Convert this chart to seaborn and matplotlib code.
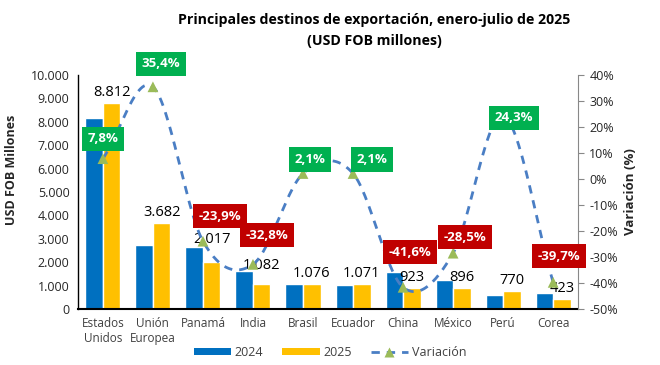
import numpy as np
import pandas as pd
import matplotlib
matplotlib.use("Agg")
import matplotlib.pyplot as plt
import matplotlib.ticker as mticker
from matplotlib.patches import Patch
from matplotlib.lines import Line2D
import seaborn as sns

# ---------------- data ----------------
paises = ["Estados\nUnidos", "Unión\nEuropea", "Panamá", "India", "Brasil",
          "Ecuador", "China", "México", "Perú", "Corea"]
valores_2024 = [8174, 2719, 2650, 1610, 1054, 1049, 1580, 1253, 619, 701]
valores_2025 = [8812, 3682, 2017, 1082, 1076, 1071, 923, 896, 770, 423]
variacion = [7.8, 35.4, -23.9, -32.8, 2.1, 2.1, -41.6, -28.5, 24.3, -39.7]
etiquetas_2025 = ["8.812", "3.682", "2.017", "1.082", "1.076", "1.071", "923", "896", "770", "423"]
etiquetas_var = ["7,8%", "35,4%", "-23,9%", "-32,8%", "2,1%", "2,1%", "-41,6%", "-28,5%", "24,3%", "-39,7%"]

# label placement (pixels) - styling only
var_offsets = [(0, 20), (8, 23), (17, 25), (14, 29), (7, 14), (19, 14),
               (7, 35), (12, 16), (11, -2), (6, 26)]
bar_label_extra = [0, 0, 12, 8, 0, 0, 0, 0, 0, 0]

sns.set_theme(style="white")
plt.rcParams["font.family"] = ["Open Sans", "DejaVu Sans"]

BLUE = "#0070C0"
YELLOW = "#FFC000"
LINE = "#4A7EC4"
TRI = "#9BBB59"
GREEN = "#00B050"
RED = "#C00000"
TXT = "#262626"

df = pd.DataFrame({
    "pais": paises * 2,
    "valor": valores_2024 + valores_2025,
    "anio": ["2024"] * len(paises) + ["2025"] * len(paises),
})

fig = plt.figure(figsize=(6.6, 3.65), dpi=100)
ax = fig.add_axes([0.118, 0.153, 0.758, 0.642])

sns.barplot(data=df, x="pais", y="valor", hue="anio", palette=[BLUE, YELLOW],
            width=0.7, gap=0, legend=False, ax=ax, saturation=1, errorbar=None)

ax.set_ylim(0, 10000)
ax.set_xlim(-0.5, len(paises) - 0.5)
ax.yaxis.set_major_locator(mticker.MultipleLocator(1000))
ax.yaxis.set_major_formatter(mticker.FuncFormatter(lambda v, p: f"{int(v):,}".replace(",", ".")))
ax.tick_params(axis="y", labelsize=9, colors=TXT, length=0, pad=6)
ax.tick_params(axis="x", labelsize=8.5, colors="#404040", length=0, pad=6)
ax.set_xlabel("")
ax.set_ylabel("USD FOB Millones", fontsize=9, fontweight="bold", color=TXT)
ax.yaxis.set_label_coords(-0.12, 0.594)
for s in ["top", "right"]:
    ax.spines[s].set_visible(False)
ax.spines["left"].set_color("black")
ax.spines["left"].set_linewidth(1.0)
ax.spines["bottom"].set_color("black")
ax.spines["bottom"].set_linewidth(1.5)

# value labels on 2025 bars
xs = np.arange(len(paises))
bar_w = 0.35
for i, (v, lab) in enumerate(zip(valores_2025, etiquetas_2025)):
    ax.annotate(lab, (xs[i] + bar_w / 2, v), xytext=(0, 3 + bar_label_extra[i]),
                textcoords="offset pixels", ha="center", va="bottom",
                fontsize=10.5, color="black")

# secondary axis: variation
ax2 = ax.twinx()
ax2.set_ylim(-50, 40)
ax2.set_xlim(ax.get_xlim())
ax2.yaxis.set_major_locator(mticker.MultipleLocator(10))
ax2.yaxis.set_major_formatter(mticker.FuncFormatter(lambda v, p: f"{int(round(v))}%"))
ax2.tick_params(axis="y", labelsize=9, colors=TXT, length=4, width=0.8, color="#888888", pad=4)
ax2.set_ylabel("Variación (%)", fontsize=9.5, fontweight="bold", color=TXT, labelpad=4)
for s in ["top", "left", "bottom"]:
    ax2.spines[s].set_visible(False)
ax2.spines["right"].set_color("#888888")
ax2.spines["right"].set_linewidth(0.8)

# smoothed line (Bezier rendering through the data points)
yv = np.array(variacion, dtype=float)
xv = xs.astype(float)
px = np.concatenate([[2 * xv[0] - xv[1]], xv, [2 * xv[-1] - xv[-2]]])
py = np.concatenate([[2 * yv[0] - yv[1]], yv, [2 * yv[-1] - yv[-2]]])
sx, sy = [], []
t = np.linspace(0, 1, 30)
for k in range(1, len(px) - 2):
    p0x, p1x, p2x, p3x = px[k - 1:k + 3]
    p0y, p1y, p2y, p3y = py[k - 1:k + 3]
    c1x = p1x + (p2x - p0x) / 6
    c1y = p1y + (p2y - p0y) / 6
    c2x = p2x - (p3x - p1x) / 6
    c2y = p2y - (p3y - p1y) / 6
    bx = (1 - t) ** 3 * p1x + 3 * (1 - t) ** 2 * t * c1x + 3 * (1 - t) * t ** 2 * c2x + t ** 3 * p2x
    by = (1 - t) ** 3 * p1y + 3 * (1 - t) ** 2 * t * c1y + 3 * (1 - t) * t ** 2 * c2y + t ** 3 * p2y
    sx.extend(bx)
    sy.extend(by)
ax2.plot(sx, sy, color=LINE, lw=2, ls=(0, (3, 2.5)), zorder=3)
sns.scatterplot(x=xv, y=yv, marker="^", color=TRI, s=60, edgecolor="none", ax=ax2, zorder=4)

for i, (v, lab) in enumerate(zip(variacion, etiquetas_var)):
    col = GREEN if v >= 0 else RED
    dx, dy = var_offsets[i]
    ax2.annotate(lab, (xv[i], v), xytext=(dx, dy), textcoords="offset pixels",
                 ha="center", va="center", fontsize=9.5, fontweight="bold", color="white",
                 bbox=dict(boxstyle="square,pad=0.42", fc=col, ec="none"), zorder=6)

# title
fig.text(0.567, 0.945, "Principales destinos de exportación, enero-julio de 2025",
         ha="center", va="center", fontsize=10.2, fontweight="bold", color="black")
fig.text(0.567, 0.888, "(USD FOB millones)", ha="center", va="center",
         fontsize=10.2, fontweight="bold", color="black")

# legend
handles = [Patch(facecolor=BLUE, edgecolor="none", label="2024"),
           Patch(facecolor=YELLOW, edgecolor="none", label="2025"),
           Line2D([0], [0], color=LINE, lw=2, ls=(0, (3, 2.5)), marker="^",
                  markerfacecolor=TRI, markeredgecolor="none", markersize=7, label="Variación")]
fig.legend(handles=handles, loc="center", bbox_to_anchor=(0.5, 0.035), ncol=3,
           frameon=False, fontsize=9, handlelength=3, handleheight=0.5,
           columnspacing=1.5, handletextpad=0.3, labelcolor="#404040")

fig.savefig("out.png", dpi=100)
